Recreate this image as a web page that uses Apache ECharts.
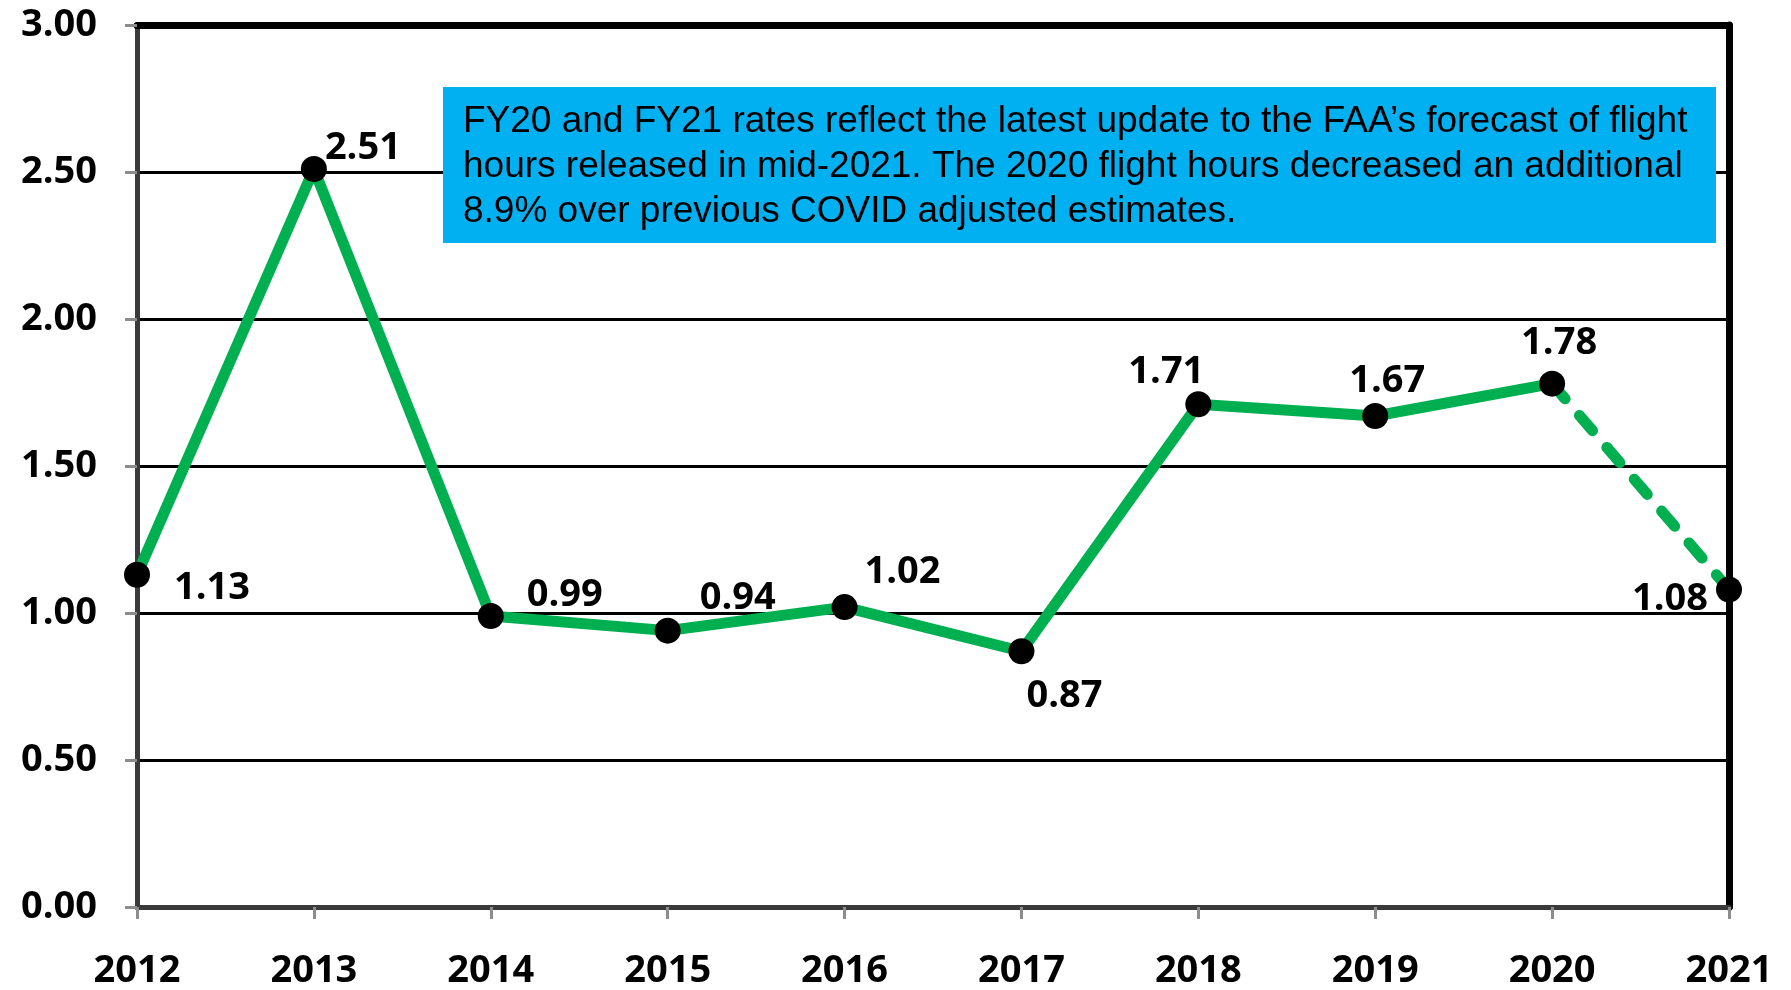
<!DOCTYPE html>
<html>
<head>
<meta charset="utf-8">
<script src="https://cdn.jsdelivr.net/npm/echarts@6/dist/echarts.min.js"></script>
<style>
html,body{margin:0;padding:0;background:#fff;}
#chart{width:1791px;height:990px;}
</style>
</head>
<body>
<div id="chart"></div>
<script>
const years = ['2012','2013','2014','2015','2016','2017','2018','2019','2020','2021'];
const rates = [1.13, 2.51, 0.99, 0.94, 1.02, 0.87, 1.71, 1.67, 1.78, 1.08];
const yTicks = [0, 0.5, 1, 1.5, 2, 2.5, 3];
const noteLines = [
  'FY20 and FY21 rates reflect the latest update to the FAA\u2019s forecast of flight',
  'hours released in mid-2021. The 2020 flight hours decreased an additional',
  '8.9% over previous COVID adjusted estimates.'
];
// label offsets (layout only, label centre relative to point)
const labelOffsets = [[75,13],[49,-21],[74,-21],[70,-32],[58,-35],[43,45],[-32,-32],[12,-35],[7,-41],[-59,10]];

const solidCount = 9; // actual through 2020, dashed to 2021
const solidData = rates.map((v,i)=> i < solidCount ? v : null);
const dashData = rates.map((v,i)=> i >= solidCount-1 ? v : null);
const pointData = rates.map((v,i)=> ({value:v, label:{offset:labelOffsets[i]}}));

const labelFont = {fontFamily:'Open Sans', fontWeight:'bold', fontSize:38, color:'#000'};

const chart = echarts.init(document.getElementById('chart'), null, {renderer:'canvas'});
chart.setOption({
  animation:false,
  backgroundColor:'#fff',
  grid:{left:137, right:62, top:25, bottom:82, containLabel:false},
  xAxis:[{
    type:'category', data:years, boundaryGap:false, position:'bottom',
    axisLine:{show:true, onZero:false, lineStyle:{color:'#3a3a3a', width:5}},
    axisTick:{show:true, alignWithLabel:true, length:12, lineStyle:{color:'#8c8c8c', width:3}},
    axisLabel:Object.assign({margin:45, interval:0}, labelFont),
    splitLine:{show:false}
  },{
    type:'category', data:years, boundaryGap:false, position:'top',
    axisLine:{show:true, onZero:false, lineStyle:{color:'#000', width:7}},
    axisTick:{show:false}, axisLabel:{show:false}, splitLine:{show:false}
  }],
  yAxis:[{
    type:'value', min:yTicks[0], max:yTicks[yTicks.length-1], interval:0.5,
    axisLine:{show:true, onZero:false, lineStyle:{color:'#3a3a3a', width:5}},
    axisTick:{show:true, length:12, lineStyle:{color:'#8c8c8c', width:3}},
    axisLabel:Object.assign({margin:40, formatter:v=>v.toFixed(2)}, labelFont),
    splitLine:{show:true, lineStyle:{color:'#000', width:3}}
  },{
    type:'value', min:yTicks[0], max:yTicks[yTicks.length-1], interval:0.5, position:'right',
    axisLine:{show:true, onZero:false, lineStyle:{color:'#000', width:7}},
    axisTick:{show:false}, axisLabel:{show:false}, splitLine:{show:false}
  }],
  series:[{
    type:'line', data:solidData, symbol:'none', z:3,
    lineStyle:{color:'#00B050', width:11, join:'round', cap:'round'},
    connectNulls:false
  },{
    type:'line', data:dashData, symbol:'none', z:3,
    lineStyle:{color:'#00B050', width:11, type:[20,22], cap:'round'},
    connectNulls:false
  },{
    type:'scatter', data:pointData, symbol:'circle', symbolSize:26, z:5,
    itemStyle:{color:'#000', opacity:1},
    label:Object.assign({show:true, position:'inside',
      formatter:p=>p.value.toFixed(2)}, labelFont)
  }],
  graphic:[{
    type:'rect', z:100, shape:{x:443, y:87, width:1273, height:156},
    style:{fill:'#00B0F0'}
  },{
    type:'text', z:101, left:463, top:99,
    style:{
      text:noteLines.join('\n'),
      font:'37px "Liberation Sans", Arial, sans-serif',
      lineHeight:45, fill:'#000'
    }
  }]
});
</script>
</body>
</html>
